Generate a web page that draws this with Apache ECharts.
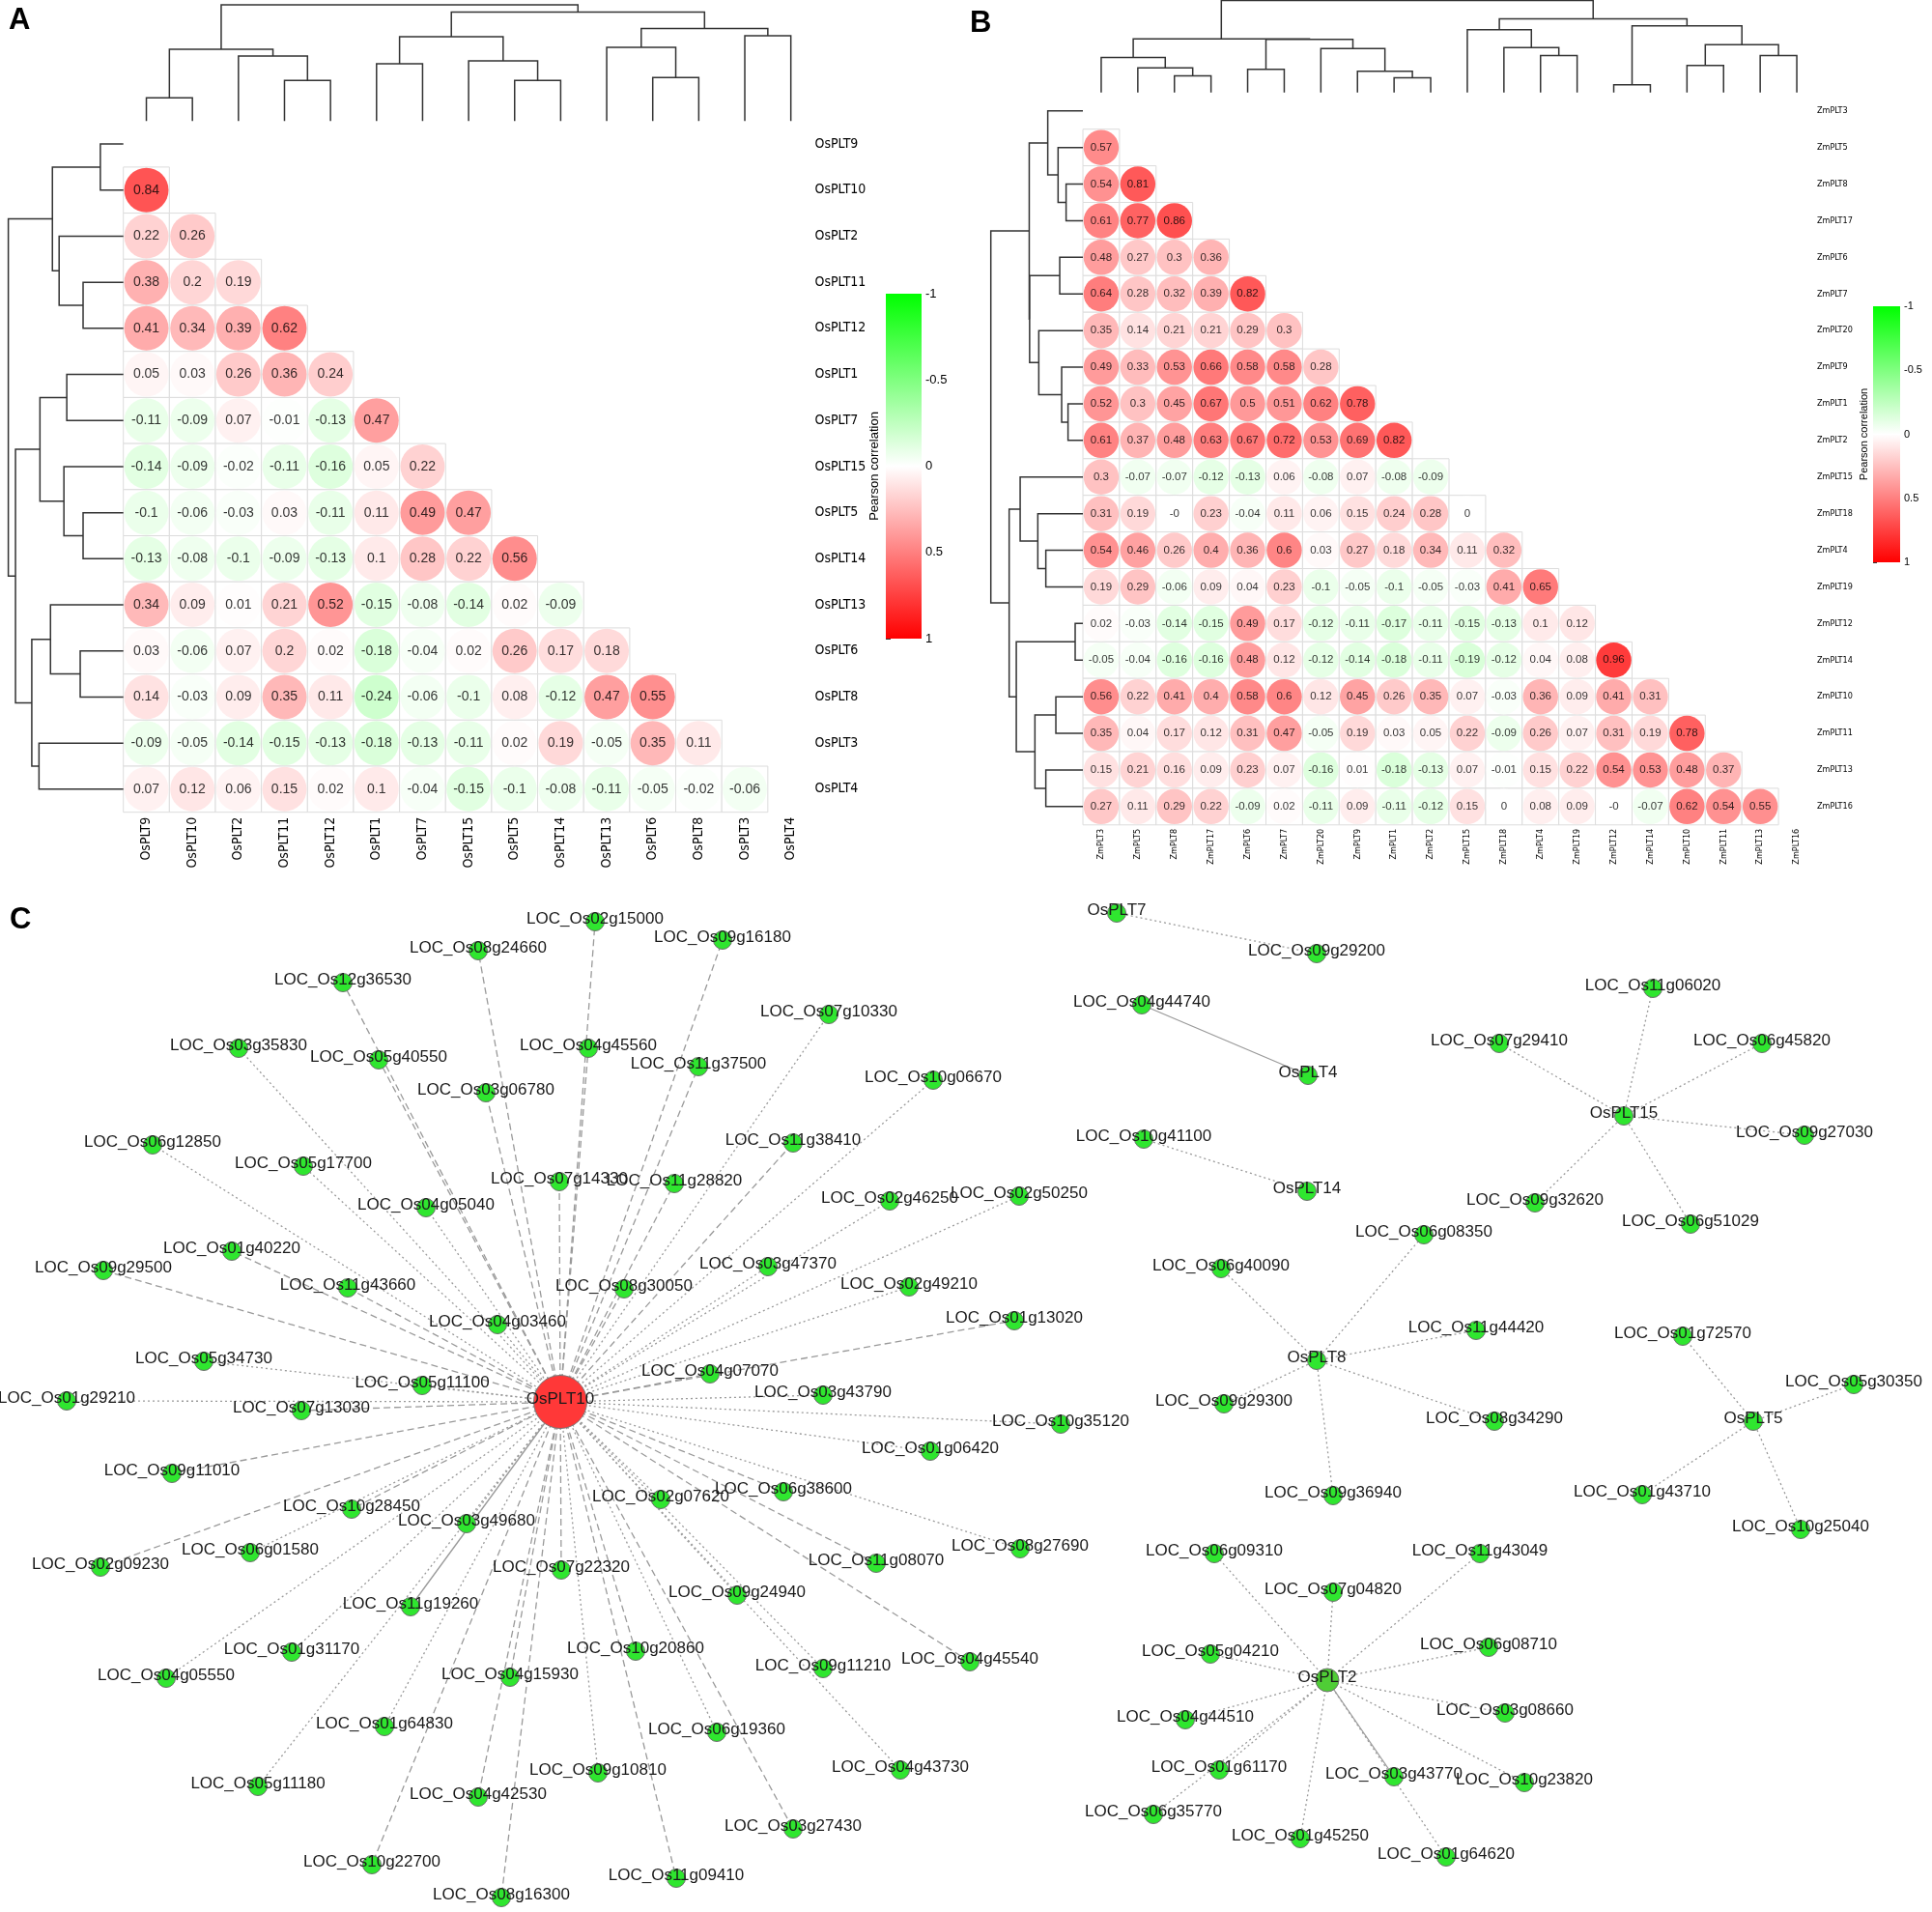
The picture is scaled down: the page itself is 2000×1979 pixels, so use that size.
<!DOCTYPE html>
<html>
<head>
<meta charset="utf-8">
<script src="https://cdn.jsdelivr.net/npm/echarts@6/dist/echarts.min.js"></script>
<style>
  html, body { margin: 0; background: #fff; }
  #main { width: 2000px; height: 1979px; }
</style>
</head>
<body>
<div id="main"></div>
<script>
// ---- panel A: rice PLT genes, clustered order ----
var riceGenes = ['OsPLT9', 'OsPLT10', 'OsPLT2', 'OsPLT11', 'OsPLT12', 'OsPLT1', 'OsPLT7', 'OsPLT15',
  'OsPLT5', 'OsPLT14', 'OsPLT13', 'OsPLT6', 'OsPLT8', 'OsPLT3', 'OsPLT4'];
var riceCorr = [
  [],
  [0.84],
  [0.22, 0.26],
  [0.38, 0.2, 0.19],
  [0.41, 0.34, 0.39, 0.62],
  [0.05, 0.03, 0.26, 0.36, 0.24],
  [-0.11, -0.09, 0.07, -0.01, -0.13, 0.47],
  [-0.14, -0.09, -0.02, -0.11, -0.16, 0.05, 0.22],
  [-0.1, -0.06, -0.03, 0.03, -0.11, 0.11, 0.49, 0.47],
  [-0.13, -0.08, -0.1, -0.09, -0.13, 0.1, 0.28, 0.22, 0.56],
  [0.34, 0.09, 0.01, 0.21, 0.52, -0.15, -0.08, -0.14, 0.02, -0.09],
  [0.03, -0.06, 0.07, 0.2, 0.02, -0.18, -0.04, 0.02, 0.26, 0.17, 0.18],
  [0.14, -0.03, 0.09, 0.35, 0.11, -0.24, -0.06, -0.1, 0.08, -0.12, 0.47, 0.55],
  [-0.09, -0.05, -0.14, -0.15, -0.13, -0.18, -0.13, -0.11, 0.02, 0.19, -0.05, 0.35, 0.11],
  [0.07, 0.12, 0.06, 0.15, 0.02, 0.1, -0.04, -0.15, -0.1, -0.08, -0.11, -0.05, -0.02, -0.06]
];
// linkage: [childA, childB, height]; leaves 0..14, merges numbered from 15
var riceMerges = [[0, 1, 24], [3, 4, 42], [2, 16, 67], [15, 17, 74], [5, 6, 59], [8, 9, 42], [7, 20, 62],
  [19, 21, 87], [11, 12, 45], [10, 23, 76], [13, 14, 88], [24, 25, 95.5], [22, 26, 112.5], [18, 27, 120]];

// ---- panel B: maize PLT genes ----
var maizeGenes = ['ZmPLT3', 'ZmPLT5', 'ZmPLT8', 'ZmPLT17', 'ZmPLT6', 'ZmPLT7', 'ZmPLT20', 'ZmPLT9', 'ZmPLT1',
  'ZmPLT2', 'ZmPLT15', 'ZmPLT18', 'ZmPLT4', 'ZmPLT19', 'ZmPLT12', 'ZmPLT14', 'ZmPLT10', 'ZmPLT11', 'ZmPLT13', 'ZmPLT16'];
var maizeCorr = [
  [],
  [0.57],
  [0.54, 0.81],
  [0.61, 0.77, 0.86],
  [0.48, 0.27, 0.3, 0.36],
  [0.64, 0.28, 0.32, 0.39, 0.82],
  [0.35, 0.14, 0.21, 0.21, 0.29, 0.3],
  [0.49, 0.33, 0.53, 0.66, 0.58, 0.58, 0.28],
  [0.52, 0.3, 0.45, 0.67, 0.5, 0.51, 0.62, 0.78],
  [0.61, 0.37, 0.48, 0.63, 0.67, 0.72, 0.53, 0.69, 0.82],
  [0.3, -0.07, -0.07, -0.12, -0.13, 0.06, -0.08, 0.07, -0.08, -0.09],
  [0.31, 0.19, -0, 0.23, -0.04, 0.11, 0.06, 0.15, 0.24, 0.28, 0],
  [0.54, 0.46, 0.26, 0.4, 0.36, 0.6, 0.03, 0.27, 0.18, 0.34, 0.11, 0.32],
  [0.19, 0.29, -0.06, 0.09, 0.04, 0.23, -0.1, -0.05, -0.1, -0.05, -0.03, 0.41, 0.65],
  [0.02, -0.03, -0.14, -0.15, 0.49, 0.17, -0.12, -0.11, -0.17, -0.11, -0.15, -0.13, 0.1, 0.12],
  [-0.05, -0.04, -0.16, -0.16, 0.48, 0.12, -0.12, -0.14, -0.18, -0.11, -0.19, -0.12, 0.04, 0.08, 0.96],
  [0.56, 0.22, 0.41, 0.4, 0.58, 0.6, 0.12, 0.45, 0.26, 0.35, 0.07, -0.03, 0.36, 0.09, 0.41, 0.31],
  [0.35, 0.04, 0.17, 0.12, 0.31, 0.47, -0.05, 0.19, 0.03, 0.05, 0.22, -0.09, 0.26, 0.07, 0.31, 0.19, 0.78],
  [0.15, 0.21, 0.16, 0.09, 0.23, 0.07, -0.16, 0.01, -0.18, -0.13, 0.07, -0.01, 0.15, 0.22, 0.54, 0.53, 0.48, 0.37],
  [0.27, 0.11, 0.29, 0.22, -0.09, 0.02, -0.11, 0.09, -0.11, -0.12, 0.15, 0, 0.08, 0.09, -0, -0.07, 0.62, 0.54, 0.55]
];
// leaves 0..19, merges numbered from 20
var maizeMerges = [[2, 3, 17.4], [1, 20, 25.7], [0, 21, 36.4], [4, 5, 24], [8, 9, 15.4], [7, 24, 22], [6, 25, 45.7],
  [23, 26, 55.2], [22, 27, 55.6], [12, 13, 38.4], [11, 29, 46.7], [10, 30, 65], [14, 15, 8], [16, 17, 28],
  [18, 19, 38.4], [33, 34, 49.7], [32, 35, 69], [31, 36, 76.4], [28, 37, 95.4]];

var legendTicks = [-1, 1];

// ---- panel C: co-expression network, node layout positions ----
var hubNodes = [['OsPLT10', 580, 1451], ['OsPLT7', 1156, 945], ['OsPLT4', 1354, 1113], ['OsPLT14', 1353, 1233],
  ['OsPLT15', 1681, 1155], ['OsPLT8', 1363, 1408], ['OsPLT5', 1815, 1471], ['OsPLT2', 1374, 1739]];
var plt10Partners = [
  ['LOC_Os02g15000', 616, 954], ['LOC_Os08g24660', 495, 984], ['LOC_Os09g16180', 748, 973],
  ['LOC_Os12g36530', 355, 1017], ['LOC_Os07g10330', 858, 1050], ['LOC_Os03g35830', 247, 1085],
  ['LOC_Os05g40550', 392, 1097], ['LOC_Os04g45560', 609, 1085], ['LOC_Os11g37500', 723, 1104],
  ['LOC_Os03g06780', 503, 1131], ['LOC_Os10g06670', 966, 1118], ['LOC_Os06g12850', 158, 1185],
  ['LOC_Os05g17700', 314, 1207], ['LOC_Os11g38410', 821, 1183], ['LOC_Os07g14330', 579, 1223],
  ['LOC_Os11g28820', 698, 1225], ['LOC_Os04g05040', 441, 1250], ['LOC_Os02g46250', 921, 1243],
  ['LOC_Os02g50250', 1055, 1238], ['LOC_Os01g40220', 240, 1295], ['LOC_Os09g29500', 107, 1315],
  ['LOC_Os03g47370', 795, 1311], ['LOC_Os11g43660', 360, 1333], ['LOC_Os08g30050', 646, 1334],
  ['LOC_Os02g49210', 941, 1332], ['LOC_Os04g03460', 515, 1371], ['LOC_Os01g13020', 1050, 1367],
  ['LOC_Os05g34730', 211, 1409], ['LOC_Os04g07070', 735, 1422], ['LOC_Os05g11100', 437, 1434],
  ['LOC_Os03g43790', 852, 1444], ['LOC_Os01g29210', 69, 1450], ['LOC_Os07g13030', 312, 1460],
  ['LOC_Os10g35120', 1098, 1474], ['LOC_Os01g06420', 963, 1502], ['LOC_Os09g11010', 178, 1525],
  ['LOC_Os10g28450', 364, 1562], ['LOC_Os02g07620', 684, 1552], ['LOC_Os06g38600', 811, 1544],
  ['LOC_Os03g49680', 483, 1577], ['LOC_Os06g01580', 259, 1607], ['LOC_Os08g27690', 1056, 1603],
  ['LOC_Os11g08070', 907, 1618], ['LOC_Os02g09230', 104, 1622], ['LOC_Os07g22320', 581, 1625],
  ['LOC_Os09g24940', 763, 1651], ['LOC_Os11g19260', 425, 1663], ['LOC_Os10g20860', 658, 1709],
  ['LOC_Os01g31170', 302, 1710], ['LOC_Os04g45540', 1004, 1720], ['LOC_Os09g11210', 852, 1727],
  ['LOC_Os04g05550', 172, 1737], ['LOC_Os04g15930', 528, 1736], ['LOC_Os01g64830', 398, 1787],
  ['LOC_Os06g19360', 742, 1793], ['LOC_Os05g11180', 267, 1849], ['LOC_Os09g10810', 619, 1835],
  ['LOC_Os04g43730', 932, 1832], ['LOC_Os04g42530', 495, 1860], ['LOC_Os03g27430', 821, 1893],
  ['LOC_Os10g22700', 385, 1930], ['LOC_Os11g09410', 700, 1944], ['LOC_Os08g16300', 519, 1964]
];
var plt7Partners = [['LOC_Os09g29200', 1363, 987]];
var plt4Partners = [['LOC_Os04g44740', 1182, 1040]];
var plt14Partners = [['LOC_Os10g41100', 1184, 1179]];
var plt15Partners = [['LOC_Os11g06020', 1711, 1023], ['LOC_Os07g29410', 1552, 1080], ['LOC_Os06g45820', 1824, 1080],
  ['LOC_Os09g27030', 1868, 1175], ['LOC_Os09g32620', 1589, 1245], ['LOC_Os06g51029', 1750, 1267]];
var plt8Partners = [['LOC_Os06g08350', 1474, 1278], ['LOC_Os06g40090', 1264, 1313], ['LOC_Os11g44420', 1528, 1377],
  ['LOC_Os09g29300', 1267, 1453], ['LOC_Os08g34290', 1547, 1471], ['LOC_Os09g36940', 1380, 1548]];
var plt5Partners = [['LOC_Os01g72570', 1742, 1383], ['LOC_Os05g30350', 1919, 1433], ['LOC_Os01g43710', 1700, 1547],
  ['LOC_Os10g25040', 1864, 1583]];
var plt2Partners = [['LOC_Os06g09310', 1257, 1608], ['LOC_Os11g43049', 1532, 1608], ['LOC_Os07g04820', 1380, 1648],
  ['LOC_Os06g08710', 1541, 1705], ['LOC_Os05g04210', 1253, 1712], ['LOC_Os03g08660', 1558, 1773],
  ['LOC_Os04g44510', 1227, 1780], ['LOC_Os01g61170', 1262, 1832], ['LOC_Os03g43770', 1443, 1839],
  ['LOC_Os10g23820', 1578, 1845], ['LOC_Os06g35770', 1194, 1878], ['LOC_Os01g45250', 1346, 1903],
  ['LOC_Os01g64620', 1497, 1922]];

// ---- styling ----
var narrow = "'Liberation Sans Narrow', 'DejaVu Sans Condensed', 'Liberation Sans', sans-serif";
var sans = "'Liberation Sans', Arial, sans-serif";
var dashedEdges = ['LOC_Os02g15000', 'LOC_Os08g24660', 'LOC_Os09g16180', 'LOC_Os12g36530', 'LOC_Os05g40550',
  'LOC_Os04g45560', 'LOC_Os11g37500', 'LOC_Os03g06780', 'LOC_Os11g38410', 'LOC_Os07g14330', 'LOC_Os11g28820',
  'LOC_Os01g40220', 'LOC_Os09g29500', 'LOC_Os11g43660', 'LOC_Os08g30050', 'LOC_Os01g13020', 'LOC_Os04g07070',
  'LOC_Os07g13030', 'LOC_Os09g11010', 'LOC_Os10g28450', 'LOC_Os06g38600', 'LOC_Os11g08070', 'LOC_Os02g09230',
  'LOC_Os07g22320', 'LOC_Os10g20860', 'LOC_Os04g45540', 'LOC_Os04g15930', 'LOC_Os04g42530', 'LOC_Os03g27430',
  'LOC_Os10g22700', 'LOC_Os11g09410', 'LOC_Os08g16300'];
var solidEdges = ['LOC_Os11g19260', 'LOC_Os04g44740', 'LOC_Os03g43770'];

function cells(corr) {
  var out = [];
  corr.forEach(function (row, i) {
    row.forEach(function (v, j) { out.push([j, i, v]); });
  });
  return out;
}

function dendroSegments(nLeaves, merges) {
  var pos = [], hgt = [];
  for (var i = 0; i < nLeaves; i++) { pos[i] = i; hgt[i] = 0; }
  return merges.map(function (m, k) {
    var id = nLeaves + k;
    pos[id] = (pos[m[0]] + pos[m[1]]) / 2;
    hgt[id] = m[2];
    return [pos[m[0]], hgt[m[0]], pos[m[1]], hgt[m[1]], m[2]];
  });
}

function dendroRender(horizontal) {
  return function (params, api) {
    var a = api.value(0), ha = api.value(1), b = api.value(2), hb = api.value(3), h = api.value(4);
    var pts = horizontal
      ? [[ha, a], [h, a], [h, b], [hb, b]]
      : [[a, ha], [a, h], [b, h], [b, hb]];
    return {
      type: 'polyline',
      shape: { points: pts.map(function (p) { return api.coord(p); }) },
      style: { stroke: '#333', lineWidth: 1.5, fill: null }
    };
  };
}

function cellRender(params, api) {
  var c = api.coord([api.value(0), api.value(1)]);
  var s = api.size([1, 1]);
  return {
    type: 'rect',
    shape: { x: c[0] - s[0] / 2, y: c[1] - s[1] / 2, width: s[0], height: s[1] },
    style: { fill: '#fff', stroke: '#dcdcdc', lineWidth: 1 }
  };
}

function barRender(params, api) {
  var p0 = api.coord([0, api.value(0)]);
  var p1 = api.coord([1, api.value(1)]);
  return {
    type: 'rect',
    shape: { x: p0[0], y: p0[1], width: p1[0] - p0[0], height: p1[1] - p0[1] },
    style: {
      fill: new echarts.graphic.LinearGradient(0, 0, 0, 1, [
        { offset: 0, color: '#00ff00' }, { offset: 0.5, color: '#ffffff' }, { offset: 1, color: '#ff0000' }
      ])
    }
  };
}

function fmtCorr(p) {
  var v = p.value[2];
  return Object.is(v, -0) ? '-0' : String(v);
}

// network nodes and links
var partnerLists = [plt10Partners, plt7Partners, plt4Partners, plt14Partners, plt15Partners, plt8Partners, plt5Partners, plt2Partners];
var netNodes = [], netLinks = [];
hubNodes.forEach(function (h, k) {
  var node = { name: h[0], value: [h[1], h[2]] };
  if (h[0] === 'OsPLT10') {
    node.symbolSize = 55;
    node.itemStyle = { color: '#ff3838', borderColor: '#777' };
    node.z = 0;
  } else if (h[0] === 'OsPLT2') {
    node.symbolSize = 24;
    node.itemStyle = { color: '#4fcd36' };
  }
  netNodes.push(node);
  partnerLists[k].forEach(function (p) {
    netNodes.push({ name: p[0], value: [p[1], p[2]] });
    var t = [2, 3];
    if (dashedEdges.indexOf(p[0]) >= 0) t = [7, 4];
    if (solidEdges.indexOf(p[0]) >= 0) t = 'solid';
    netLinks.push({ source: h[0], target: p[0], lineStyle: { type: t } });
  });
});

var hidden = { show: false };
var catAxisBase = {
  type: 'category', axisLine: hidden, axisTick: hidden, splitLine: hidden
};

var chart = echarts.init(document.getElementById('main'));
var option = {
  animation: false,
  backgroundColor: '#fff',
  title: [
    { text: 'A', left: 4, top: 1, textStyle: { fontSize: 31, fontWeight: 'bold', fontFamily: sans, color: '#000' } },
    { text: 'B', left: 999, top: 4, textStyle: { fontSize: 31, fontWeight: 'bold', fontFamily: sans, color: '#000' } },
    { text: 'C', left: 5, top: 932, textStyle: { fontSize: 31, fontWeight: 'bold', fontFamily: sans, color: '#000' } }
  ],
  visualMap: [{
    type: 'continuous', show: false, min: -1, max: 1, dimension: 2, seriesIndex: [1, 6],
    inRange: { color: ['#00ff00', '#ffffff', '#ff0000'] }
  }],
  grid: [
    { left: 127.7, top: 125.2, width: 714.8, height: 715.5 },   // 0 matrix A
    { left: 127.7, top: 5, width: 714.8, height: 120.2 },       // 1 top tree A
    { left: 8.6, top: 125.2, width: 119.1, height: 715.5 },     // 2 left tree A
    { left: 917, top: 304, width: 37, height: 357 },            // 3 colour bar A
    { left: 1121, top: 95.8, width: 758, height: 758 },         // 4 matrix B
    { left: 1121, top: 0.5, width: 758, height: 95.3 },         // 5 top tree B
    { left: 1025.7, top: 95.8, width: 95.3, height: 758 },      // 6 left tree B
    { left: 1939, top: 317, width: 28, height: 265 },           // 7 colour bar B
    { left: 0, top: 0, width: 2000, height: 1979 }              // 8 network
  ],
  xAxis: [
    Object.assign({}, catAxisBase, { gridIndex: 0, data: riceGenes, position: 'bottom',
      axisLabel: { interval: 0, rotate: 90, margin: 5, fontSize: 14, fontFamily: narrow, color: '#000' } }),
    { gridIndex: 1, type: 'value', min: -0.5, max: 14.5, show: false },
    { gridIndex: 2, type: 'value', min: 0, max: 120, inverse: true, show: false },
    { gridIndex: 3, type: 'value', min: 0, max: 1, show: false },
    Object.assign({}, catAxisBase, { gridIndex: 4, data: maizeGenes, position: 'bottom',
      axisLabel: { interval: 0, rotate: 90, margin: 4, fontSize: 9, fontFamily: narrow, color: '#000' } }),
    { gridIndex: 5, type: 'value', min: -0.5, max: 19.5, show: false },
    { gridIndex: 6, type: 'value', min: 0, max: 95.4, inverse: true, show: false },
    { gridIndex: 7, type: 'value', min: 0, max: 1, show: false },
    { gridIndex: 8, type: 'value', min: 0, max: 2000, show: false }
  ],
  yAxis: [
    Object.assign({}, catAxisBase, { gridIndex: 0, data: riceGenes, inverse: true, position: 'right',
      axisLabel: { interval: 0, margin: 1, fontSize: 14, fontFamily: narrow, color: '#000' } }),
    { gridIndex: 1, type: 'value', min: 0, max: 120, show: false },
    { gridIndex: 2, type: 'value', min: -0.5, max: 14.5, inverse: true, show: false },
    { gridIndex: 3, type: 'value', min: -1, max: 1, interval: 0.5, inverse: true, position: 'right',
      axisLine: hidden, splitLine: hidden,
      axisTick: { show: true, length: 5, lineStyle: { color: '#333' } },
      axisLabel: { margin: 4, fontSize: 13, fontFamily: sans, color: '#000' } },
    Object.assign({}, catAxisBase, { gridIndex: 4, data: maizeGenes, inverse: true, position: 'right',
      axisLabel: { interval: 0, margin: 2, fontSize: 9, fontFamily: narrow, color: '#000' } }),
    { gridIndex: 5, type: 'value', min: 0, max: 95.4, show: false },
    { gridIndex: 6, type: 'value', min: -0.5, max: 19.5, inverse: true, show: false },
    { gridIndex: 7, type: 'value', min: -1, max: 1, interval: 0.5, inverse: true, position: 'right',
      axisLine: hidden, splitLine: hidden,
      axisTick: { show: true, length: 4, lineStyle: { color: '#333' } },
      axisLabel: { margin: 4, fontSize: 11, fontFamily: sans, color: '#000' } },
    { gridIndex: 8, type: 'value', min: 0, max: 1979, inverse: true, show: false },
    // axis names of the colour bars
    { gridIndex: 3, type: 'value', min: -1, max: 1, position: 'left', axisLine: hidden, axisTick: hidden,
      axisLabel: hidden, splitLine: hidden, name: 'Pearson correlation', nameLocation: 'middle', nameGap: 5,
      nameTextStyle: { fontSize: 13, fontFamily: sans, color: '#000' } },
    { gridIndex: 7, type: 'value', min: -1, max: 1, position: 'left', axisLine: hidden, axisTick: hidden,
      axisLabel: hidden, splitLine: hidden, name: 'Pearson correlation', nameLocation: 'middle', nameGap: 4,
      nameTextStyle: { fontSize: 11, fontFamily: sans, color: '#000' } }
  ],
  series: [
    // 0 cells A
    { type: 'custom', xAxisIndex: 0, yAxisIndex: 0, data: cells(riceCorr), renderItem: cellRender, z: 1, silent: true },
    // 1 circles A
    { type: 'scatter', xAxisIndex: 0, yAxisIndex: 0, data: cells(riceCorr), symbolSize: 46, z: 2, silent: true,
      label: { show: true, position: 'inside', formatter: fmtCorr, fontSize: 14, fontFamily: sans, color: '#000' } },
    // 2 top tree A
    { type: 'custom', xAxisIndex: 1, yAxisIndex: 1, data: dendroSegments(15, riceMerges), renderItem: dendroRender(false), silent: true, clip: false },
    // 3 left tree A
    { type: 'custom', xAxisIndex: 2, yAxisIndex: 2, data: dendroSegments(15, riceMerges), renderItem: dendroRender(true), silent: true, clip: false },
    // 4 colour bar A
    { type: 'custom', xAxisIndex: 3, yAxisIndex: 3, data: [legendTicks], renderItem: barRender, silent: true },
    // 5 cells B
    { type: 'custom', xAxisIndex: 4, yAxisIndex: 4, data: cells(maizeCorr), renderItem: cellRender, z: 1, silent: true },
    // 6 circles B
    { type: 'scatter', xAxisIndex: 4, yAxisIndex: 4, data: cells(maizeCorr), symbolSize: 36.5, z: 2, silent: true,
      label: { show: true, position: 'inside', formatter: fmtCorr, fontSize: 11.5, fontFamily: sans, color: '#000' } },
    // 7 top tree B
    { type: 'custom', xAxisIndex: 5, yAxisIndex: 5, data: dendroSegments(20, maizeMerges), renderItem: dendroRender(false), silent: true, clip: false },
    // 8 left tree B
    { type: 'custom', xAxisIndex: 6, yAxisIndex: 6, data: dendroSegments(20, maizeMerges), renderItem: dendroRender(true), silent: true, clip: false },
    // 9 colour bar B
    { type: 'custom', xAxisIndex: 7, yAxisIndex: 7, data: [legendTicks], renderItem: barRender, silent: true },
    // 10 network
    {
      type: 'graph', coordinateSystem: 'cartesian2d', xAxisIndex: 8, yAxisIndex: 8,
      data: netNodes, links: netLinks, symbolSize: 19, roam: false, silent: true,
      itemStyle: { color: '#2fe62f', borderColor: '#6f6f6f', borderWidth: 1 },
      lineStyle: { color: '#9a9a9a', width: 1.3, opacity: 1 },
      label: { show: true, position: 'inside', offset: [0, -3], fontSize: 17, fontFamily: sans, color: '#1a1a1a' },
      emphasis: { disabled: true }
    }
  ]
};
chart.setOption(option);
</script>
</body>
</html>
